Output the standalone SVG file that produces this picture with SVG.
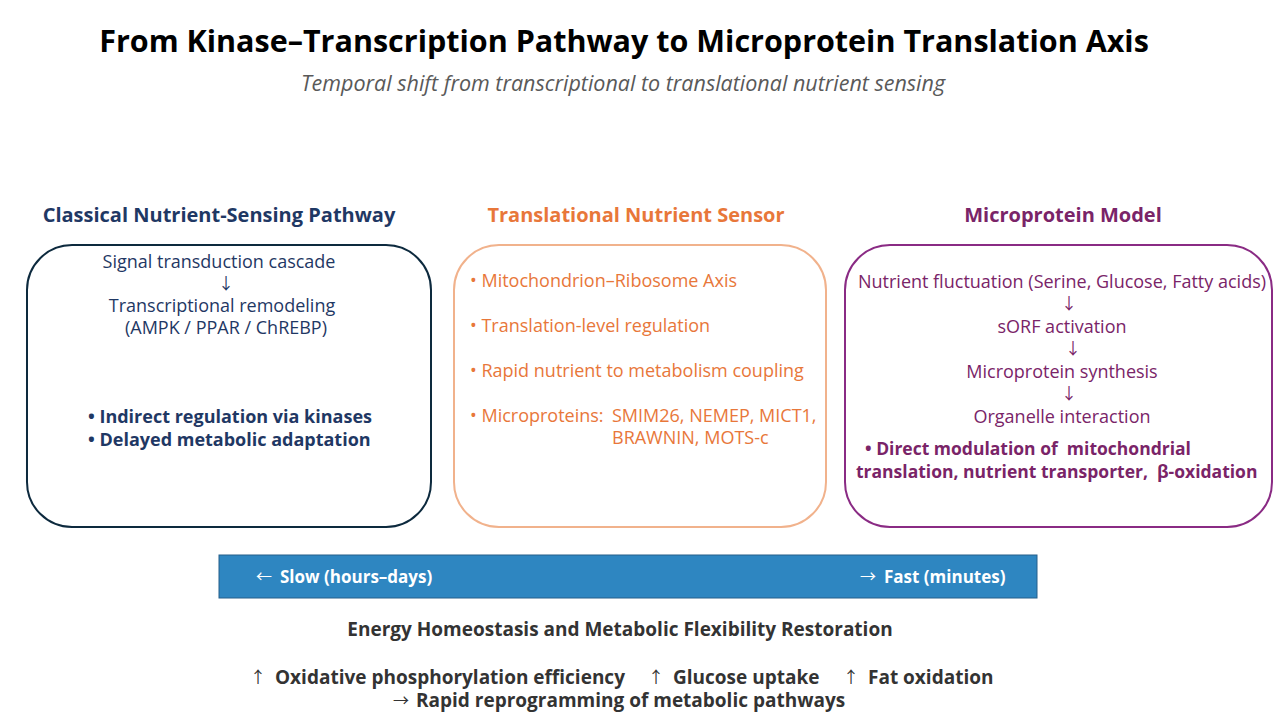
<svg xmlns="http://www.w3.org/2000/svg" width="1280" height="720" viewBox="0 0 1280 720">
<style>
text{font-family:"Open Sans","Noto Sans","Liberation Sans",sans-serif;}
.title{font-size:30.5px;font-weight:bold;fill:#000;}
.sub{font-size:21.5px;font-style:italic;fill:#595959;}
.hd{font-size:20px;font-weight:bold;}
.t{font-size:18px;}
.ar{font-family:"Noto Sans CJK KR","Noto Sans CJK SC",sans-serif;font-size:16px;font-weight:normal;}
.b{font-size:18px;font-weight:bold;}
.b3{font-size:17.5px;font-weight:bold;}
.navy{fill:#1f3864;}
.orange{fill:#e8773a;}
.purple{fill:#7a2468;}
.white{fill:#fff;}
.dark{fill:#333;}
.bar{font-size:17px;font-weight:bold;fill:#fff;}
.bt{font-size:19px;font-weight:bold;fill:#333;}
</style>
<rect width="1280" height="720" fill="#fff"/>
<text class="title" x="624" y="52" text-anchor="middle">From Kinase–Transcription Pathway to Microprotein Translation Axis</text>
<text class="sub" x="623" y="91" text-anchor="middle">Temporal shift from transcriptional to translational nutrient sensing</text>

<g id="classical">
<text class="hd navy" x="219" y="222" text-anchor="middle">Classical Nutrient-Sensing Pathway</text>
<rect x="27" y="245" width="404" height="282" rx="45" fill="none" stroke="#0d2a3e" stroke-width="2"/>
<text class="t navy" x="219" y="268" text-anchor="middle">Signal transduction cascade</text>
<text class="ar navy" x="226" y="289" text-anchor="middle">↓</text>
<text class="t navy" x="222" y="312" text-anchor="middle">Transcriptional remodeling</text>
<text class="t navy" x="226" y="334" text-anchor="middle">(AMPK / PPAR / ChREBP)</text>
<text class="b navy" x="88" y="423">• Indirect regulation via kinases</text>
<text class="b navy" x="88" y="446">• Delayed metabolic adaptation</text>
</g>

<g id="translational">
<text class="hd orange" x="636" y="222" text-anchor="middle">Translational Nutrient Sensor</text>
<rect x="454" y="245" width="372" height="282" rx="45" fill="none" stroke="#f1b28c" stroke-width="2"/>
<text class="t orange" x="470" y="287">• Mitochondrion–Ribosome Axis</text>
<text class="t orange" x="470" y="332">• Translation-level regulation</text>
<text class="t orange" x="470" y="377">• Rapid nutrient to metabolism coupling</text>
<text class="t orange" x="470" y="422">• Microproteins: <tspan x="612">SMIM26, NEMEP, MICT1,</tspan></text>
<text class="t orange" x="612" y="444">BRAWNIN, MOTS-c</text>
</g>

<g id="microprotein">
<text class="hd purple" x="1063" y="222" text-anchor="middle">Microprotein Model</text>
<rect x="845" y="245" width="427" height="282" rx="45" fill="none" stroke="#8a2b84" stroke-width="2"/>
<text class="t purple" x="1062" y="288" text-anchor="middle">Nutrient fluctuation (Serine, Glucose, Fatty acids)</text>
<text class="ar purple" x="1069" y="309" text-anchor="middle">↓</text>
<text class="t purple" x="1062" y="333" text-anchor="middle">sORF activation</text>
<text class="ar purple" x="1073" y="354" text-anchor="middle">↓</text>
<text class="t purple" x="1062" y="378" text-anchor="middle">Microprotein synthesis</text>
<text class="ar purple" x="1069" y="399" text-anchor="middle">↓</text>
<text class="t purple" x="1062" y="423" text-anchor="middle">Organelle interaction</text>
<text class="b3 purple" x="865" y="455" xml:space="preserve">• Direct modulation of  mitochondrial</text>
<text class="b3 purple" x="856" y="478" xml:space="preserve">translation, nutrient transporter,  β-oxidation</text>
</g>

<g id="timescale">
<rect x="219" y="555" width="818" height="43" fill="#2e86c1" stroke="#245f8a" stroke-width="1"/>
<text class="ar white" x="264" y="582" text-anchor="middle">←</text>
<text class="bar" x="280" y="583">Slow (hours–days)</text>
<text class="ar white" x="868" y="582" text-anchor="middle">→</text>
<text class="bar" x="884" y="583">Fast (minutes)</text>
</g>

<g id="outcome">
<text class="bt" x="620" y="636" text-anchor="middle">Energy Homeostasis and Metabolic Flexibility Restoration</text>
<text class="ar dark" x="258" y="683" text-anchor="middle">↑</text>
<text class="bt" x="275" y="684">Oxidative phosphorylation efficiency</text>
<text class="ar dark" x="656" y="683" text-anchor="middle">↑</text>
<text class="bt" x="673" y="684">Glucose uptake</text>
<text class="ar dark" x="851" y="683" text-anchor="middle">↑</text>
<text class="bt" x="868" y="684">Fat oxidation</text>
<text class="ar dark" x="401" y="706" text-anchor="middle">→</text>
<text class="bt" x="416" y="707">Rapid reprogramming of metabolic pathways</text>
</g>
</svg>
